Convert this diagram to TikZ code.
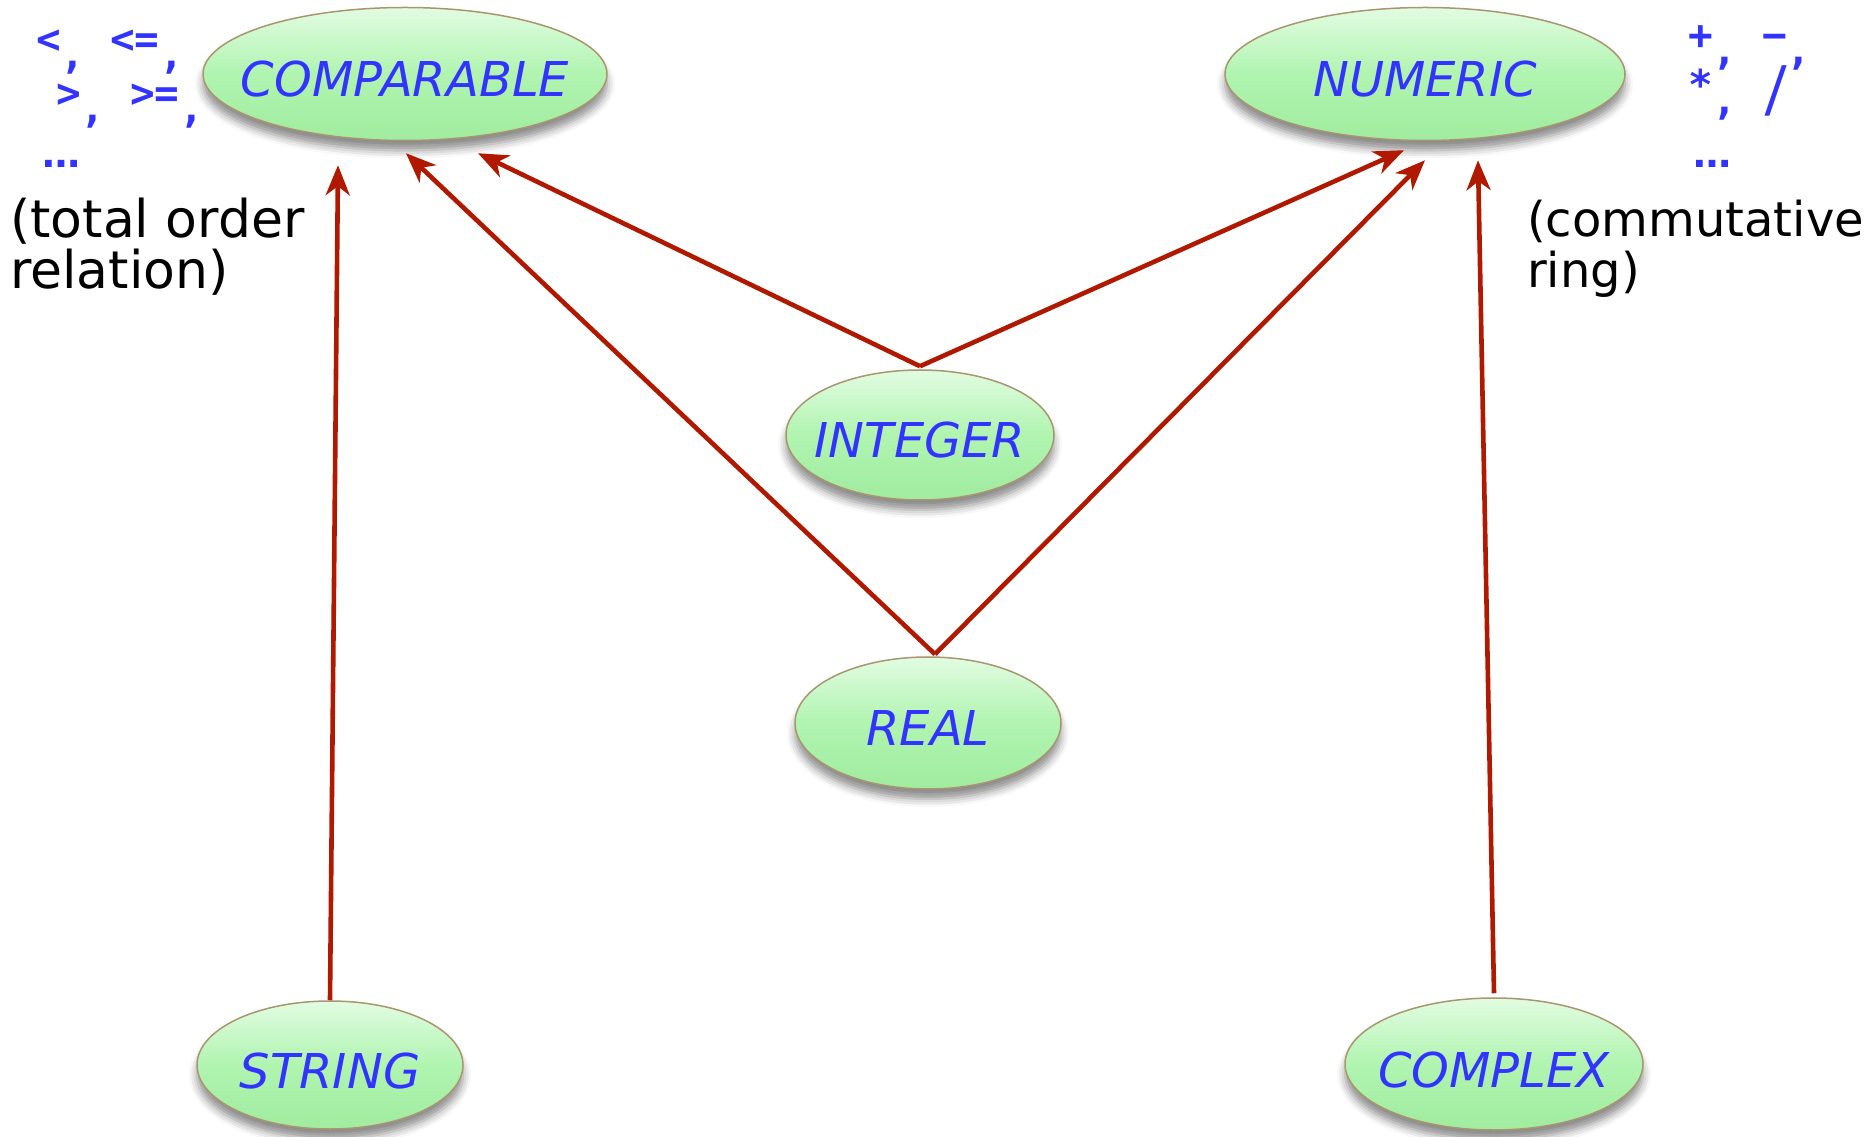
\documentclass[tikz,border=0pt]{standalone}
\usepackage{fontspec}
\setmainfont{DejaVu Sans}
\newfontfamily\monof{DejaVu Sans Mono}
\usetikzlibrary{shapes.geometric,arrows.meta,calc,shadows.blur}
\definecolor{arrred}{RGB}{176,24,0}
\definecolor{lblblue}{RGB}{51,51,255}
\definecolor{ellborder}{RGB}{170,150,110}
\definecolor{elltop}{RGB}{226,252,226}
\definecolor{ellmid}{RGB}{176,244,176}
\definecolor{ellbot}{RGB}{160,236,160}
\newcommand\lowc{\raisebox{-0.35em}{,}}
\newcommand\lbl[1]{\raisebox{-23pt}[0pt][0pt]{\makebox[0pt]{#1}}}
\begin{document}
\begin{tikzpicture}[x=1pt,y=1pt,
 cls/.style={ellipse, draw=ellborder, line width=1.5pt, top color=elltop, bottom color=ellbot, middle color=ellmid, inner sep=0pt, font=\fontsize{48}{50}\selectfont\itshape, text=lblblue, blur shadow={shadow xshift=0pt, shadow yshift=-10pt, shadow blur radius=8pt, shadow opacity=45}},
 inh/.style={draw=arrred, line width=4.6pt, -{Stealth[length=30pt,width=24pt,inset=9pt]}},
 sym/.style={text=lblblue, font=\monof\bfseries\fontsize{41}{43}\selectfont, inner sep=0pt, anchor=base west},
 dots/.style={text=lblblue, font=\bfseries\fontsize{38}{40}\selectfont, inner sep=0pt, anchor=base west},
 note/.style={align=left, inner sep=0pt, anchor=north west}
]
\useasboundingbox (0,0) rectangle (1874,1136);
\node[cls, minimum width=404pt, minimum height=133pt] (CMP) at (405,1062) {\lbl{COMPARABLE}};
\node[cls, minimum width=400pt, minimum height=133pt] (NUM) at (1425,1062) {\lbl{NUMERIC}};
\node[cls, minimum width=268pt, minimum height=130pt] (INT) at (920,701) {\lbl{INTEGER}};
\node[cls, minimum width=266pt, minimum height=132pt] (REAL) at (928,413) {\lbl{REAL}};
\node[cls, minimum width=266pt, minimum height=128pt] (STR) at (330,71) {\lbl{STRING}};
\node[cls, minimum width=298pt, minimum height=132pt] (CPX) at (1494,72) {\lbl{COMPLEX}};

\draw[inh] (STR.north) -- ($(CMP.south)+(-67,-24)$);
\draw[inh] ($(REAL.north)+(7,2)$) -- ($(CMP.south)+(1,-12)$);
\draw[inh] ($(INT.north)+(0,3)$) -- ($(CMP.south)+(73,-12)$);
\draw[inh] ($(INT.north)+(0,3)$) -- ($(NUM.south)+(-21,-9)$);
\draw[inh] ($(REAL.north)+(7,2)$) -- ($(NUM.south)+(0,-19)$);
\draw[inh] ($(CPX.north)+(0,4)$) -- ($(NUM.south)+(53,-19)$);

\node[sym] (lt1) at (36,1082) {<\lowc{} <=\lowc};
\node[sym] (lt2) at (56,1028) {>\lowc{} >=\lowc};
\node[dots] (lt3) at (42,968) {…};
\node[sym] (rt1) at (1688,1086) {+\lowc{} −\lowc};
\node[sym] (rt2) at (1688,1036) {*\lowc{} \raisebox{-0.25em}{\scalebox{1.1}[1.5]{/}}};
\node[dots] (rt3) at (1693,968) {…};

\node[note, font=\fontsize{52}{51}\selectfont] (ln) at (10,938) {(total order\\relation)};
\node[note, font=\fontsize{48}{51}\selectfont] (rn) at (1527,936) {(commutative\\ring)};
\end{tikzpicture}
\end{document}
